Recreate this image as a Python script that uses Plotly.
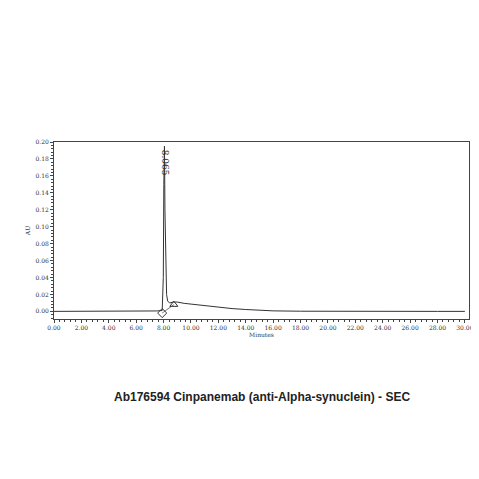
import plotly.graph_objects as go

# chromatogram trace
time_min = [0.0, 2.0, 4.0, 6.0, 7.5, 7.9, 7.98, 8.02, 8.065, 8.10, 8.15, 8.22, 8.3, 8.45, 8.7, 9.0,
            9.5, 10.0, 11.0, 12.0, 13.0, 14.0, 15.0, 16.0, 18.0, 20.0, 24.0, 28.0, 30.0]
au = [0.0, 0.0, 0.0, 0.0, 0.0005, 0.001, 0.04, 0.15, 0.195, 0.12, 0.05, 0.02, 0.012, 0.010, 0.011, 0.011,
      0.0095, 0.0085, 0.0065, 0.0048, 0.0033, 0.0022, 0.0012, 0.0006, 0.0002, 0.0, 0.0, 0.0, 0.0]

peak_time = 8.065
peak_label = "8.065"
start_mark = [7.9, -0.002]
end_mark = [8.75, 0.008]

tick_vals = [i * 2 for i in range(16)]
tick_text = ["%.2f" % v for v in tick_vals]
ytick_vals = [i * 0.02 for i in range(11)]
ytick_text = ["%.2f" % v for v in ytick_vals]

fig = go.Figure()
fig.add_trace(go.Scatter(x=time_min, y=au, mode="lines", line=dict(color="#333333", width=1)))
# baseline drop between start and end markers
fig.add_trace(go.Scatter(x=[start_mark[0], end_mark[0]], y=[start_mark[1], end_mark[1]], mode="lines",
                         line=dict(color="#555555", width=0.8)))
fig.add_trace(go.Scatter(x=[start_mark[0]], y=[start_mark[1]], mode="markers",
                         marker=dict(symbol="diamond-open", size=7, color="#333333")))
fig.add_trace(go.Scatter(x=[end_mark[0]], y=[end_mark[1]], mode="markers",
                         marker=dict(symbol="triangle-up-open", size=7, color="#333333")))
fig.add_annotation(x=peak_time, y=0.175, text=peak_label, textangle=90, showarrow=False,
                   font=dict(family="DejaVu Serif", size=9, color="#333333"))

axis_font = dict(family="DejaVu Serif", size=6, color="#333333")
fig.update_layout(
    width=479, height=479,
    plot_bgcolor="white", paper_bgcolor="white",
    showlegend=False,
    margin=dict(l=46, r=18, t=134, b=168),
    xaxis=dict(range=[0, 30.3], tickvals=tick_vals, ticktext=tick_text, tickfont=axis_font,
               showgrid=False, zeroline=False, showline=True, mirror=True, linecolor="#444444",
               linewidth=1, ticks="outside", ticklen=3, minor=dict(ticks="outside", ticklen=2, dtick=0.4),
               title=dict(text="Minutes", font=axis_font, standoff=2)),
    yaxis=dict(range=[-0.009, 0.2], tickvals=ytick_vals, ticktext=ytick_text, tickfont=axis_font,
               showgrid=False, zeroline=False, showline=True, mirror=True, linecolor="#444444",
               linewidth=1, ticks="outside", ticklen=3, minor=dict(ticks="outside", ticklen=2, dtick=0.004),
               title=dict(text="AU", font=axis_font, standoff=4)),
)
fig.add_annotation(text="<b>Ab176594 Cinpanemab (anti-Alpha-synuclein) - SEC</b>", xref="paper", yref="paper",
                   x=0.5, y=-0.49, showarrow=False, font=dict(family="Liberation Sans", size=12, color="#222222"))

fig.write_html("out.html")
